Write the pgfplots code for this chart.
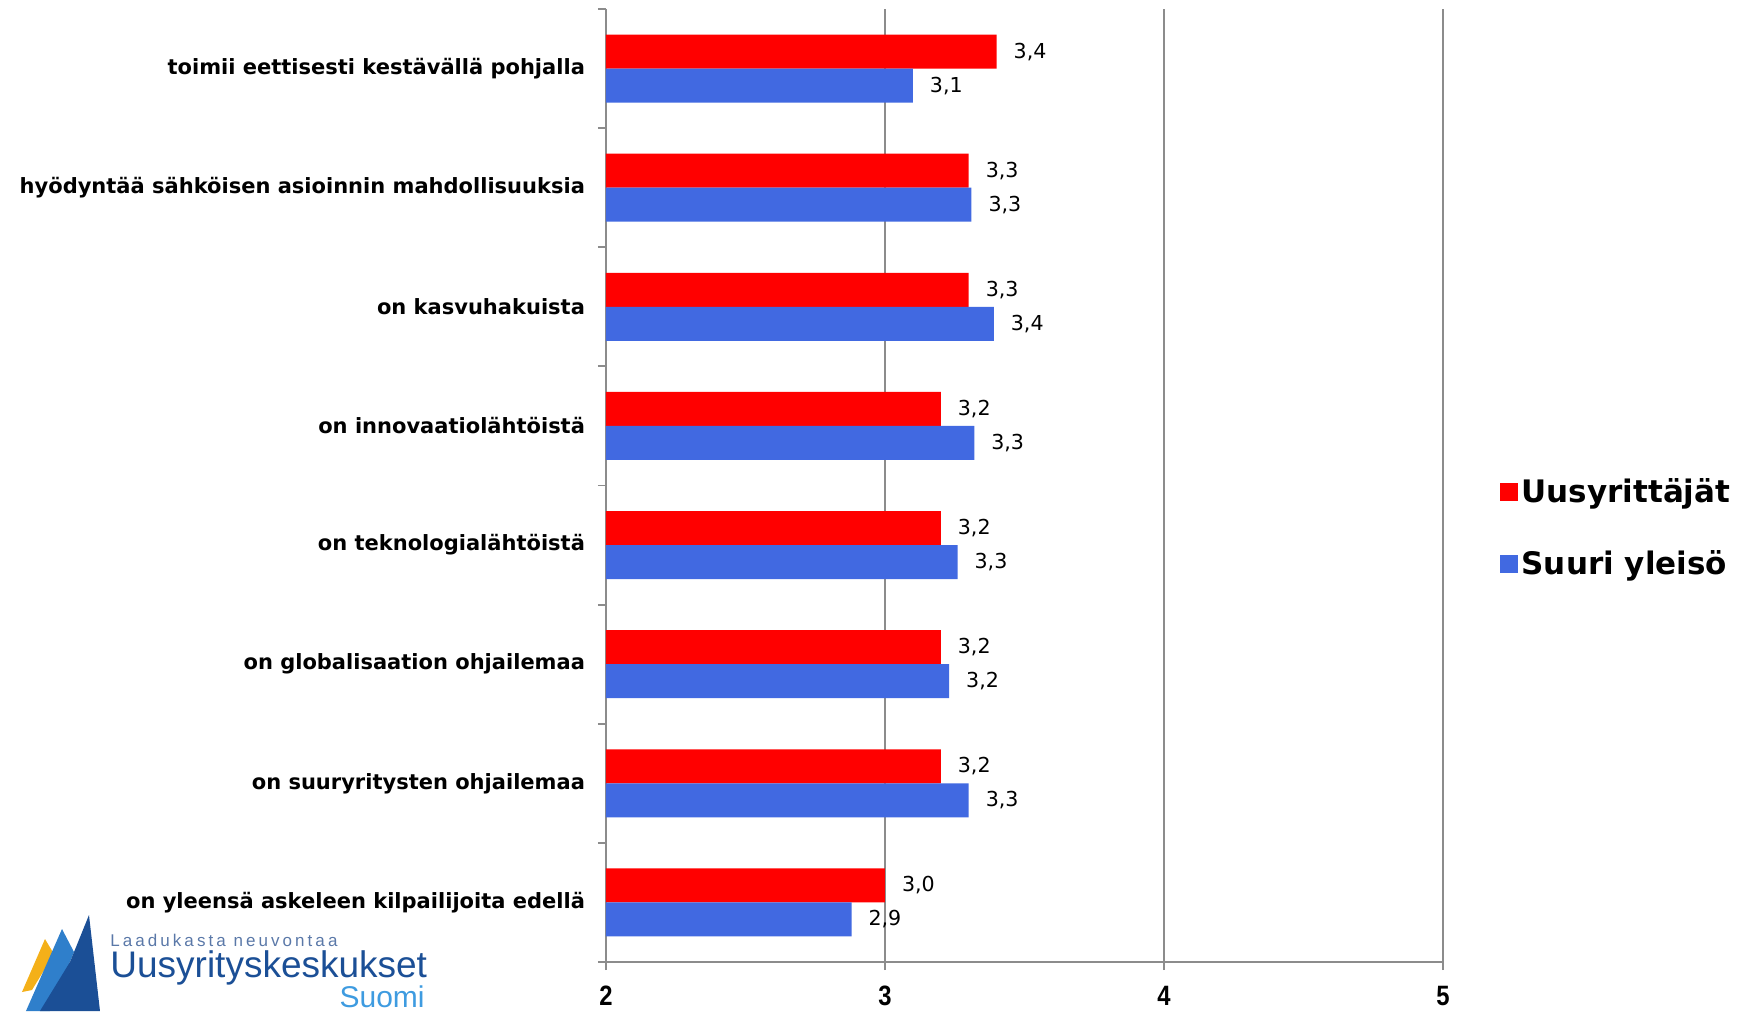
\documentclass[border=0pt]{standalone}
\usepackage{fontspec}
\setmainfont{DejaVu Sans}
\newfontfamily\tickfont[FakeStretch=0.85]{Liberation Sans}
\newfontfamily\logofont{Liberation Sans}
\usepackage{pgfplots}
\pgfplotsset{compat=1.18}

\definecolor{barred}{HTML}{FF0000}
\definecolor{barblue}{HTML}{4169E1}
\definecolor{axgray}{HTML}{8C8C8C}
\definecolor{logodark}{HTML}{1B4F96}
\definecolor{logomid}{HTML}{2F7FCB}
\definecolor{logolight}{HTML}{3E9BE0}
\definecolor{logoyellow}{HTML}{F4B019}
\definecolor{logotext}{HTML}{5A78A8}

% 0 = top category
\pgfplotstableread{
y  val
0  3.40
1  3.30
2  3.30
3  3.20
4  3.20
5  3.20
6  3.20
7  3.00
}\uusyrittajat
\pgfplotstableread{
y  val
0  3.10
1  3.31
2  3.39
3  3.32
4  3.26
5  3.23
6  3.30
7  2.88
}\suuriyleiso

\begin{document}
\begin{tikzpicture}
\useasboundingbox (-303pt,-24.5pt) rectangle (574pt,481pt);
\begin{axis}[
  at={(0,0)}, anchor=south west,
  scale only axis, width=418.5pt, height=476.5pt,
  xbar, bar width=17pt,
  xmin=2, xmax=5, ymin=-0.5, ymax=7.5, y dir=reverse,
  xtick={2,3,4,5}, xticklabels={2,3,4,5},
  ytick={0,...,7},
  yticklabels={toimii eettisesti kestävällä pohjalla,
    hyödyntää sähköisen asioinnin mahdollisuuksia,
    on kasvuhakuista, on innovaatiolähtöistä, on teknologialähtöistä,
    on globalisaation ohjailemaa, on suuryritysten ohjailemaa,
    on yleensä askeleen kilpailijoita edellä},
  minor ytick={-0.5,0.5,...,7.5},
  axis x line*=bottom, axis y line*=left,
  axis line style={axgray, line width=1.3pt, -},
  tick align=outside,
  major tick length=4pt, minor tick length=4pt,
  major y tick style={draw=none},
  minor y tick style={axgray, line width=0.9pt},
  major x tick style={axgray, line width=0.9pt},
  xmajorgrids, grid style={axgray, line width=0.9pt},
  xticklabel style={font=\tickfont\bfseries\fontsize{14}{14}\selectfont, yshift=-4.5pt},
  yticklabel style={font=\bfseries\fontsize{10.5}{13}\selectfont, xshift=-3pt},
  nodes near coords, point meta=x,
  /pgf/number format/.cd, fixed, fixed zerofill, precision=1, use comma, assume math mode=true,
  /pgfplots/.cd,
  every node near coord/.append style={font=\fontsize{10.3}{11}\selectfont, black, xshift=5pt},
  legend style={draw=none, fill=none, at={(1.06,0.455)}, anchor=west,
    font=\bfseries\fontsize{15.5}{16}\selectfont, row sep=18.5pt,
    legend cell align=left},
  legend image code/.code={\fill[#1] (0pt,-4.5pt) rectangle (9pt,4.5pt);},
]
\addplot[fill=barred, draw=none, bar shift=8.5pt] table[x=val, y=y] {\uusyrittajat};
\addplot[fill=barblue, draw=none, bar shift=-8.5pt] table[x=val, y=y] {\suuriyleiso};
\legend{Uusyrittäjät, Suuri yleisö}
\end{axis}
% logo (decoration)
\fill[logoyellow] (-280.5pt,11.5pt) -- (-292pt,-15pt) -- (-287pt,-14pt) -- (-276pt,4pt) -- cycle;
\fill[logomid] (-272pt,16.5pt) -- (-290pt,-24.5pt) -- (-278pt,-24.5pt) -- (-266pt,5pt) -- cycle;
\fill[logodark] (-258.5pt,23.5pt) -- (-253pt,-24.5pt) -- (-283pt,-24.5pt) -- (-268pt,0pt) -- cycle;
\node[anchor=base west, inner sep=0pt, text=logotext,
  font=\logofont\addfontfeature{LetterSpace=18}\fontsize{8.5}{9}\selectfont]
  at (-248pt,8pt) {Laadukasta neuvontaa};
\node[anchor=base west, inner sep=0pt, text=logodark,
  font=\logofont\fontsize{18.5}{19}\selectfont]
  at (-248pt,-7.5pt) {Uusyrityskeskukset};
\node[anchor=base east, inner sep=0pt, text=logolight,
  font=\logofont\fontsize{15}{16}\selectfont]
  at (-90.5pt,-22.8pt) {Suomi};
\end{tikzpicture}
\end{document}
